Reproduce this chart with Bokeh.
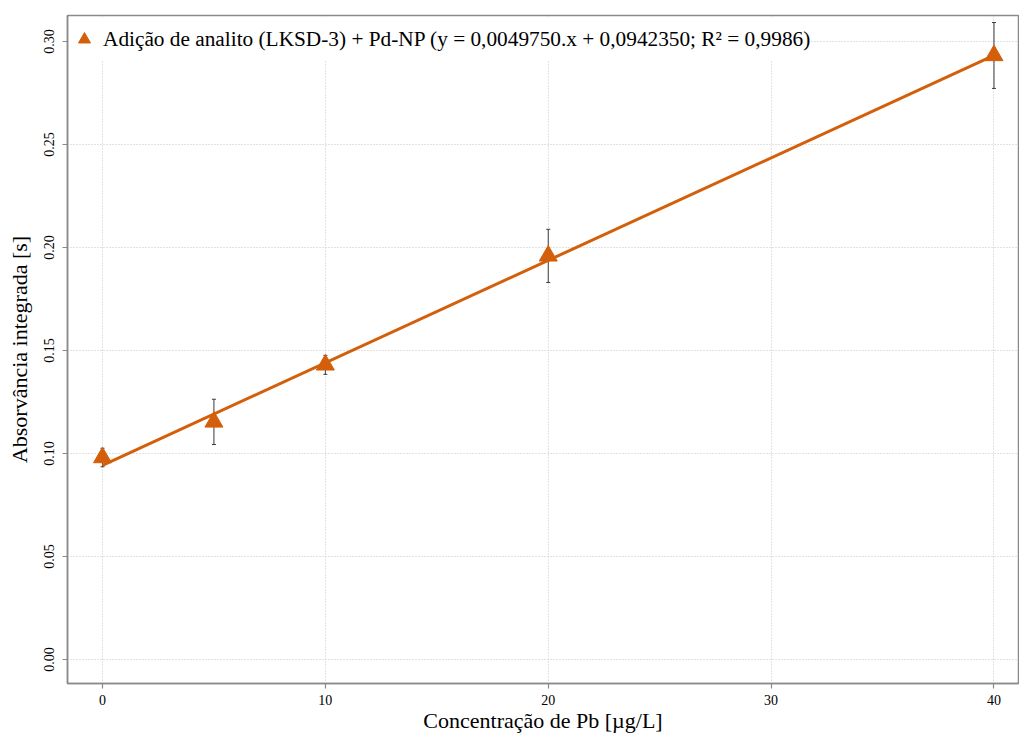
from bokeh.plotting import figure
from bokeh.models import (ColumnDataSource, Range1d, FixedTicker, Whisker, TeeHead,
                          NumeralTickFormatter, Legend, LegendItem)
from bokeh.embed import file_html
from bokeh.resources import INLINE

# Standard addition of Pb (LKSD-3) with Pd nanoparticles
conc = [0, 5, 10, 20, 40]                       # µg/L
absorb = [0.0980, 0.1153, 0.1430, 0.1959, 0.2932]  # integrated absorbance, s
err = [0.0045, 0.0110, 0.0046, 0.0129, 0.0160]

slope = 0.0049750
intercept = 0.0942350
r2 = "0,9986"

x_ticks = [0, 10, 20, 30, 40]
y_ticks = [0.00, 0.05, 0.10, 0.15, 0.20, 0.25, 0.30]

ORANGE = "#d45f0a"
SERIF = "Liberation Serif"

src = ColumnDataSource(dict(
    x=conc, y=absorb,
    upper=[a + e for a, e in zip(absorb, err)],
    lower=[a - e for a, e in zip(absorb, err)],
))
fit_x = [min(conc), max(conc)]
fit_src = ColumnDataSource(dict(x=fit_x, y=[slope * v + intercept for v in fit_x]))

p = figure(width=1019, height=736, output_backend="svg", toolbar_location=None,
           x_range=Range1d(-1.57, 41.1), y_range=Range1d(-0.0117, 0.3126),
           min_border_left=67, min_border_right=1, min_border_top=15, min_border_bottom=53)

p.background_fill_color = "white"
p.border_fill_color = "white"
p.outline_line_color = "#8a8a8a"
p.outline_line_width = 1.5

# fitted regression line
p.line("x", "y", source=fit_src, line_color=ORANGE, line_width=3)

# measured points
pts = p.scatter("x", "y", source=src, marker="triangle", size=18,
                fill_color=ORANGE, line_color=ORANGE)

# error bars
whisk = Whisker(source=src, base="x", upper="upper", lower="lower", dimension="height",
                line_color="#3a3a3a", line_width=1,
                upper_head=TeeHead(size=4, line_color="#3a3a3a", line_width=1),
                lower_head=TeeHead(size=4, line_color="#3a3a3a", line_width=1))
p.add_layout(whisk)

# axes
for ax in (p.xaxis[0], p.yaxis[0]):
    ax.axis_line_color = "#8a8a8a"
    ax.axis_line_width = 1.5
    ax.major_tick_line_color = "#8a8a8a"
    ax.major_tick_line_width = 1.2
    ax.major_tick_out = 5
    ax.major_tick_in = 0
    ax.minor_tick_line_color = None
    ax.major_label_text_font = SERIF
    ax.major_label_text_font_size = "14px"
    ax.major_label_text_color = "black"
    ax.axis_label_text_font = SERIF
    ax.axis_label_text_font_size = "22px"
    ax.axis_label_text_font_style = "normal"
    ax.axis_label_text_color = "black"

p.xaxis.ticker = FixedTicker(ticks=x_ticks)
p.yaxis.ticker = FixedTicker(ticks=y_ticks)
p.yaxis.formatter = NumeralTickFormatter(format="0.00")
p.yaxis.major_label_orientation = "vertical"
p.xaxis.major_label_standoff = 6
p.yaxis.major_label_standoff = 8
p.xaxis.axis_label = "Concentração de Pb [µg/L]"
p.yaxis.axis_label = "Absorvância integrada [s]"
p.xaxis.axis_label_standoff = 0
p.yaxis.axis_label_standoff = 10

# grid
for g in (p.xgrid[0], p.ygrid[0]):
    g.grid_line_color = "#c4c4c4"
    g.grid_line_dash = "1 2"
    g.grid_line_width = 1

label = ("Adição de analito (LKSD-3) + Pd-NP (y = 0,0049750.x + 0,0942350; R² = %s)" % r2)
legend = Legend(items=[LegendItem(label=label, renderers=[pts])], location="top_left",
                margin=2, padding=2, spacing=0,
                glyph_width=30, glyph_height=44, label_standoff=4,
                label_text_font=SERIF, label_text_font_size="21.3px",
                label_text_color="black",
                border_line_color=None, background_fill_color="white",
                background_fill_alpha=1.0)
p.add_layout(legend)

open("out.html", "w").write(file_html(p, INLINE))
